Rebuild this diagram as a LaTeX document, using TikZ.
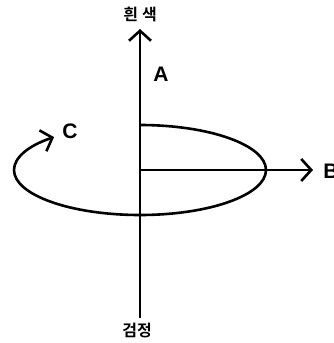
\documentclass[tikz,border=0pt]{standalone}
\usepackage{fontspec}
\setmainfont{Liberation Sans}
\newfontfamily\krfont{Noto Sans CJK KR Bold}
\usetikzlibrary{arrows.meta}

\tikzset{
    axislbl/.style={font=\krfont\fontsize{16}{16}\selectfont, inner sep=0pt},
    dirlbl/.style={font=\bfseries\fontsize{21}{21}\selectfont, inner sep=0pt}
}

\begin{document}
\begin{tikzpicture}[x=1pt,y=-1pt,line width=2.6pt,>={Straight Barb[length=10pt,width=22pt]}]
    \useasboundingbox (0,0) rectangle (334,343);
    \coordinate (O) at (140,170);
    \coordinate (top) at (140,29);
    \coordinate (bot) at (140,318);
    \coordinate (Bend) at (313,170);
    \node[axislbl] (white) at (140,14) {흰\hspace{4pt}색};
    \node[axislbl] (black) at (137,331) {검정};
    \node[dirlbl] (A) at (161,74) {A};
    \node[dirlbl, anchor=west] (B) at (322,171) {B};
    \node[dirlbl] (C) at (70,131) {C};
    \draw[->] (bot) -- (top);
    \draw[->] (O) -- (Bend);
    \draw[->] (140,125) arc[start angle=90, end angle=-227, x radius=126pt, y radius=45pt];
\end{tikzpicture}
\end{document}
